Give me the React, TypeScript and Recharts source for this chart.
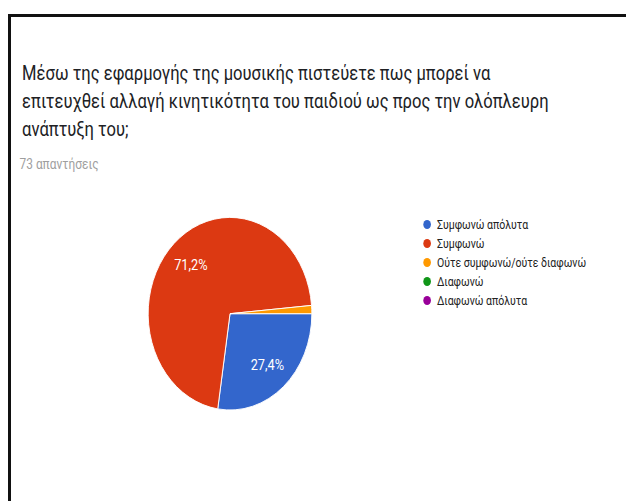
import React from 'react';
import { PieChart, Pie, Cell, Legend } from 'recharts';

const titleLines = [
  'Μέσω της εφαρμογής της μουσικής πιστεύετε πως μπορεί να',
  'επιτευχθεί αλλαγή κινητικότητα του παιδιού ως προς την ολόπλευρη',
  'ανάπτυξη του;',
];
const subtitle = '73 απαντήσεις';
const categories = [
  'Συμφωνώ απόλυτα',
  'Συμφωνώ',
  'Ούτε συμφωνώ/ούτε διαφωνώ',
  'Διαφωνώ',
  'Διαφωνώ απόλυτα',
];
const responses = [20, 52, 1, 0, 0];
const colors = ['#3366cc', '#dc3912', '#ff9900', '#109618', '#990099'];

const data = categories.map((name, i) => ({ name, value: responses[i] }));

const SX = 0.85;
const FONT = 'Roboto, "Noto Sans", sans-serif';
const RAD = Math.PI / 180;

const renderLabel = (props: any) => {
  const { cx, cy, midAngle, outerRadius, percent } = props;
  if (!percent || percent < 0.05) return null;
  const r = outerRadius * 0.7;
  const x = cx + r * Math.cos(-midAngle * RAD);
  const y = cy + r * Math.sin(-midAngle * RAD);
  const txt = (percent * 100).toFixed(1).replace('.', ',') + '%';
  return (
    <text
      x={x}
      y={y}
      fill="#ffffff"
      textAnchor="middle"
      dominantBaseline="central"
      style={{ fontFamily: FONT, fontSize: 15 }}
    >
      {txt}
    </text>
  );
};

const LegendContent = () => (
  <div style={{ fontFamily: FONT, fontSize: 12.4, color: '#222222' }}>
    {categories.map((c, i) => (
      <div
        key={c}
        style={{ display: 'flex', alignItems: 'center', height: 19, whiteSpace: 'nowrap' }}
      >
        <span
          style={{
            display: 'inline-block',
            width: 9,
            height: 9,
            borderRadius: '50%',
            background: colors[i],
            marginRight: 7,
            flexShrink: 0,
          }}
        />
        <span>{c}</span>
      </div>
    ))}
  </div>
);

export default function App() {
  return (
    <div
      style={{
        position: 'fixed',
        left: 0,
        top: 0,
        width: 626,
        height: 501,
        background: '#ffffff',
        overflow: 'hidden',
      }}
    >
      <div
        style={{
          position: 'absolute',
          left: 8,
          top: 14,
          width: 700,
          height: 600,
          borderLeft: '3px solid #111111',
          borderTop: '3px solid #111111',
        }}
      />
      <div
        style={{
          position: 'absolute',
          left: 0,
          top: 0,
          width: 737,
          height: 501,
          transform: `scaleX(${SX})`,
          transformOrigin: '0 0',
        }}
      >
        <div
          style={{
            position: 'absolute',
            left: 26,
            top: 60.2,
            fontFamily: FONT,
            fontSize: 19.5,
            lineHeight: '27.7px',
            color: '#202124',
            whiteSpace: 'nowrap',
          }}
        >
          {titleLines.map((l) => (
            <div key={l}>{l}</div>
          ))}
        </div>
        <div
          style={{
            position: 'absolute',
            left: 23,
            top: 155.5,
            fontFamily: FONT,
            fontSize: 14,
            lineHeight: '16px',
            color: '#9e9e9e',
            whiteSpace: 'nowrap',
          }}
        >
          {subtitle}
        </div>
        <div style={{ position: 'absolute', left: 0, top: 0 }}>
          <PieChart
            width={737}
            height={501}
            margin={{ top: 0, right: 0, bottom: 0, left: 0 }}
          >
            <Pie
              data={data}
              dataKey="value"
              nameKey="name"
              cx={270.6}
              cy={313.7}
              outerRadius={96.3}
              startAngle={0}
              endAngle={-360}
              stroke="#ffffff"
              strokeWidth={1}
              labelLine={false}
              label={renderLabel}
              isAnimationActive={false}
            >
              {data.map((d, i) => (
                <Cell key={d.name} fill={colors[i]} />
              ))}
            </Pie>
            <Legend
              content={<LegendContent />}
              wrapperStyle={{ position: 'absolute', left: 498, top: 215, width: 230, bottom: 'auto' }}
            />
          </PieChart>
        </div>
      </div>
    </div>
  );
}
